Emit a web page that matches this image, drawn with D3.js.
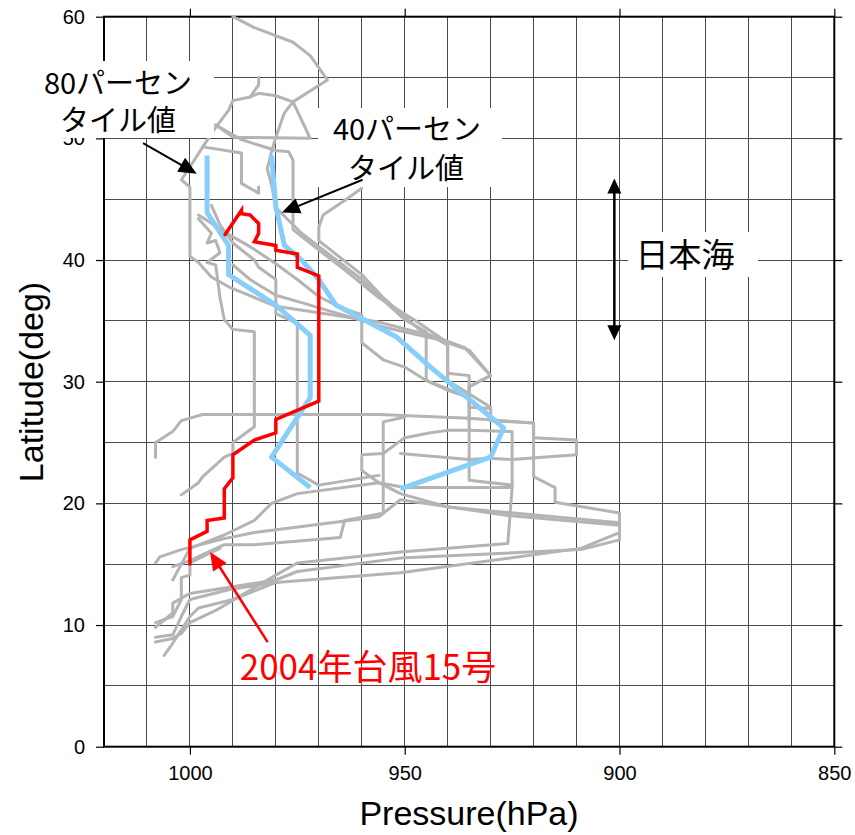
<!DOCTYPE html>
<html>
<head>
<meta charset="utf-8">
<script src="https://cdn.jsdelivr.net/npm/d3@7"></script>
<style>
  body { margin: 0; background: #fff; }
  svg { display: block; }
</style>
</head>
<body>
<svg id="chart" width="855" height="835"></svg>
<script>
// ---- axis ticks ----
const pressureTicks = [1000, 950, 900, 850];
const latitudeTicks = [0, 10, 20, 30, 40, 50, 60];

// ---- tracks: [central pressure (hPa), latitude (deg)] ----
const typhoon2004No15 = [
  [1000,14.9],[1000,17.0],[996,17.7],[996,18.6],[992,18.8],[992,21.2],[990,22.1],[990,24.0],
  [985,25.2],[980,25.8],[980,26.9],[970,28.4],[970,38.7],[975,39.4],[975,40.5],[980,40.8],
  [980,41.2],[985,41.5],[984,42.2],[984,43.0],[986,43.7],[988,43.8],[988,44.1],[992,42.0]
];

const percentile80 = [
  [996,48.6],[996,43.9],[991,41.2],[991,38.8],[980,36.3],[972,33.8],[972,28.7],[981,23.8],[972,21.3]
];

const percentile40 = [
  [981,48.6],[980,44.4],[978,41.2],[974,40.0],[970,38.4],[966,36.3],[952,33.7],[944,31.2],
  [930,27.1],[927,26.2],[930,23.8],[951,21.2]
];

const pastTracks = [
  [[1006,7.5],[1004,8.5],[1002,9.6],[1000,10.7],[998,11.4],[990,12.1],[980,13.5],[951,14.3],[909,16.3],[900,17.6],[900,19.2],[915,20.1],[915,21.3],[920,22.2],[920,26.6]],
  [[1008,9.8],[1004,11.0],[1004,11.8],[1000,12.6],[980,13.7],[975,14.4],[951,15.5],[909,16.2],[900,17.0],[900,18.4],[940,19.7],[951,20.8],[956,21.7],[960,22.7],[960,23.8]],
  [[1008,8.6],[1004,8.9],[1002,9.3],[1000,10.2],[994,11.2],[980,14.1],[975,15.1],[951,16.0],[926,16.7],[925,21.3],[925,25.9],[935,26.0],[940,26.0],[944,25.8],[950,25.4],[955,24.1],[960,24.0]],
  [[1008,23.8],[1008,25.0],[1004,25.9],[1002,26.8],[997,27.3],[985,27.3],[956,27.3],[935,27.0],[920,26.6],[920,25.4],[910,25.2],[910,24.0],[925,23.6],[930,23.7],[935,23.6],[951,24.1]],
  [[1002,20.7],[998,21.7],[997,22.2],[992,23.8],[990,24.1],[990,25.0],[985,26.3],[985,34.1],[990,34.3],[991,34.7],[992,35.1],[993,36.9],[994,39.6],[996,39.8],[993,40.6],[994,41.6],[996,41.4],[995,42.2],[998,43.4]],
  [[956,22.3],[970,21.5],[975,22.5],[975,34.8],[980,35.6],[980,38.4],[984,39.4],[985,40.0],[990,41.4],[993,42.9],[995,44.5]],
  [[984,55.0],[984,54.4],[986,53.4],[990,53.1],[991,52.3],[994,50.9],[997,49.3],[999,48.2],[1002,46.6],[1000,46.0],[1000,43.9],[1000,40.3],[998,39.8],[995,38.6],[991,37.8],[980,36.2],[967,35.5],[956,34.9],[944,33.8],[940,33.0],[940,30.7],[935,30.5],[935,27.9],[930,27.8],[930,26.8],[920,26.6]],
  [[990,60.0],[985,59.1],[976,57.9],[972,56.8],[968,54.8],[976,53.0],[978,52.1],[980,50.1],[981,48.9],[982,47.5],[981,46.2],[980,44.3],[974,42.2],[967,40.3],[960,38.4],[955,36.7],[950,35.1],[945,34.1],[945,30.1],[940,29.3],[935,28.7]],
  [[960,45.9],[964,44.9],[969,43.7],[970,42.7],[970,41.6],[960,38.8],[955,36.9],[946,34.1],[936,32.8],[930,30.5],[935,29.6],[935,21.9],[925,21.5]],
  [[997,49.3],[988,48.8],[988,46.3],[984,45.5],[984,46.0]],
  [[994,51.1],[988,49.9],[980,49.0],[977,48.9],[976,48.2],[976,42.5],[971,41.1],[964,39.2],[956,36.9],[947,34.9],[940,33.2],[935,32.6],[930,30.5],[935,29.6],[935,28.7]],
  [[986,53.4],[984,53.7],[980,53.5],[976,53.0],[972,50.0],[990,50.1],[994,51.1]],
  [[998,43.7],[990,41.9],[986,41.1],[980,39.7],[975,38.4],[970,37.0],[965,36.1],[960,35.5],[960,33.2],[955,31.8],[950,31.2],[945,30.1],[935,28.7],[935,26.8]],
  [[990,39.6],[986,38.4],[980,37.1],[974,36.5],[955,34.5],[945,33.7],[940,33.3],[940,30.1],[930,27.9],[930,26.8]],
  [[1008,15.1],[1007,15.6],[1002,16.2],[992,17.1],[985,17.6],[956,18.9],[951,20.3],[926,19.0],[900,18.2]],
  [[1004,14.8],[1000,15.3],[992,16.6],[985,16.6],[965,17.2],[964,18.6],[955,19.2],[955,26.7],[950,27.1]],
  [[1004,13.7],[1000,16.3],[992,17.4],[985,18.6],[981,20.0],[975,20.8],[956,21.7],[950,21.3],[925,21.3]],
  [[1008,9.0],[1004,9.2],[1002,10.7],[1000,12.1],[991,12.9],[980,13.5]],
  [[1008,10.2],[1004,10.7],[1002,12.1],[1002,13.9],[1000,14.1],[1000,15.1],[996,15.8],[993,16.3]]
];

// ---- layout ----
const svg = d3.select("#chart");
const x = d3.scaleLinear().domain([1020, 850]).range([104, 834.3]);
const y = d3.scaleLinear().domain([0, 60]).range([746.7, 16.7]);
const [x0, x1] = x.range();
const [yb, yt] = y.range();

svg.append("rect").attr("width", 855).attr("height", 835).attr("fill", "#fff");

// grid: every 10 hPa and every 5 degrees
const grid = svg.append("g").attr("stroke", "#4a4a4a").attr("stroke-width", 1).attr("shape-rendering", "crispEdges");
grid.selectAll("line.v").data(d3.range(1010, 850, -10)).join("line")
  .attr("x1", d => x(d)).attr("x2", d => x(d)).attr("y1", yt).attr("y2", yb);
grid.selectAll("line.h").data(d3.range(5, 60, 5)).join("line")
  .attr("x1", x0).attr("x2", x1).attr("y1", d => y(d)).attr("y2", d => y(d));

// axes with outward ticks on all four sides
const font = "'Liberation Sans', Arial, Helvetica, sans-serif";
function styleAxis(g) {
  g.select(".domain").remove();
  g.selectAll(".tick line").attr("stroke", "#000").attr("stroke-width", 1.2);
  g.selectAll(".tick text").attr("font-family", font).attr("font-size", 20).attr("fill", "#000");
}
svg.append("g").attr("transform", `translate(0,${yb})`)
  .call(d3.axisBottom(x).tickValues(pressureTicks).tickSize(8).tickPadding(11).tickFormat(d3.format("d")))
  .call(styleAxis);
svg.append("g").attr("transform", `translate(0,${yt})`)
  .call(d3.axisTop(x).tickValues(pressureTicks).tickSize(8).tickFormat(""))
  .call(styleAxis);
svg.append("g").attr("transform", `translate(${x0},0)`)
  .call(d3.axisLeft(y).tickValues(latitudeTicks).tickSize(8).tickPadding(11).tickFormat(d3.format("d")))
  .call(styleAxis);
svg.append("g").attr("transform", `translate(${x1},0)`)
  .call(d3.axisRight(y).tickValues(latitudeTicks).tickSize(8).tickFormat(""))
  .call(styleAxis);

svg.append("rect").attr("x", x0).attr("y", yt).attr("width", x1 - x0).attr("height", yb - yt)
  .attr("fill", "none").attr("stroke", "#000").attr("stroke-width", 2);

// tracks
const line = d3.line().x(d => x(d[0])).y(d => y(d[1]));
svg.append("g").selectAll("path").data(pastTracks).join("path")
  .attr("d", line).attr("fill", "none").attr("stroke", "#b4b4b4")
  .attr("stroke-width", 3).attr("stroke-linejoin", "round").attr("stroke-linecap", "round");
[percentile80, percentile40].forEach(t => {
  svg.append("path").datum(t).attr("d", line).attr("fill", "none")
    .attr("stroke", "#87cefa").attr("stroke-width", 5).attr("stroke-linejoin", "round");
});
svg.append("path").datum(typhoon2004No15).attr("d", line).attr("fill", "none")
  .attr("stroke", "#ff0000").attr("stroke-width", 3.5).attr("stroke-linejoin", "miter");

// annotation boxes
function whiteBox(bx, by, bw, bh) {
  svg.append("rect").attr("x", bx).attr("y", by).attr("width", bw).attr("height", bh).attr("fill", "#fff");
}
whiteBox(25, 61, 189, 77);
whiteBox(318, 108, 184, 79);
whiteBox(628, 232, 130, 45);

const jp = "'Noto Sans CJK JP', 'Noto Sans', sans-serif";
function label(tx, ty, text, size, color) {
  svg.append("text").attr("x", tx).attr("y", ty).attr("text-anchor", "middle")
    .attr("font-family", jp).attr("font-size", size).attr("fill", color).text(text);
}
label(118, 94, "80パーセン", 29, "#000");
label(118, 131, "タイル値", 29, "#000");
label(407, 140, "40パーセン", 29, "#000");
label(406, 179, "タイル値", 29, "#000");
label(685, 267, "日本海", 33, "#000");
label(368, 680, "2004年台風15号", 35, "#ff0000");

// arrows
function arrowHead(xt, yt2, ang, color, len, half) {
  const p = [
    [xt, yt2],
    [xt - len * Math.cos(ang) + half * Math.sin(ang), yt2 - len * Math.sin(ang) - half * Math.cos(ang)],
    [xt - len * Math.cos(ang) - half * Math.sin(ang), yt2 - len * Math.sin(ang) + half * Math.cos(ang)]
  ];
  svg.append("path").attr("d", "M" + p.map(q => q.join(",")).join("L") + "Z").attr("fill", color);
}
function arrow(p1, p2, color, width, len, half, both) {
  const ax = x(p1[0]), ay = y(p1[1]), bx = x(p2[0]), by = y(p2[1]);
  const ang = Math.atan2(by - ay, bx - ax);
  const sx = both ? ax + (len - 2) * Math.cos(ang) : ax, sy = both ? ay + (len - 2) * Math.sin(ang) : ay;
  svg.append("line").attr("x1", sx).attr("y1", sy)
    .attr("x2", bx - (len - 2) * Math.cos(ang)).attr("y2", by - (len - 2) * Math.sin(ang))
    .attr("stroke", color).attr("stroke-width", width);
  arrowHead(bx, by, ang, color, len, half);
  if (both) arrowHead(ax, ay, ang + Math.PI, color, len, half);
}
arrow([1010.9, 49.6], [998.4, 47.1], "#000", 2, 18, 8);
arrow([959.8, 46.6], [978.6, 43.9], "#000", 2, 18, 8);
arrow([981.9, 8.6], [995.3, 16.0], "#ff0000", 2.5, 18, 8);
arrow([901.2, 33.4], [901.2, 46.7], "#000", 2.5, 15, 7, true);

// axis titles
svg.append("text").attr("x", 469).attr("y", 825).attr("text-anchor", "middle")
  .attr("font-family", font).attr("font-size", 34).text("Pressure(hPa)");
svg.append("text").attr("transform", "translate(43,382) rotate(-90)").attr("text-anchor", "middle")
  .attr("font-family", font).attr("font-size", 34).text("Latitude(deg)");
</script>
</body>
</html>
